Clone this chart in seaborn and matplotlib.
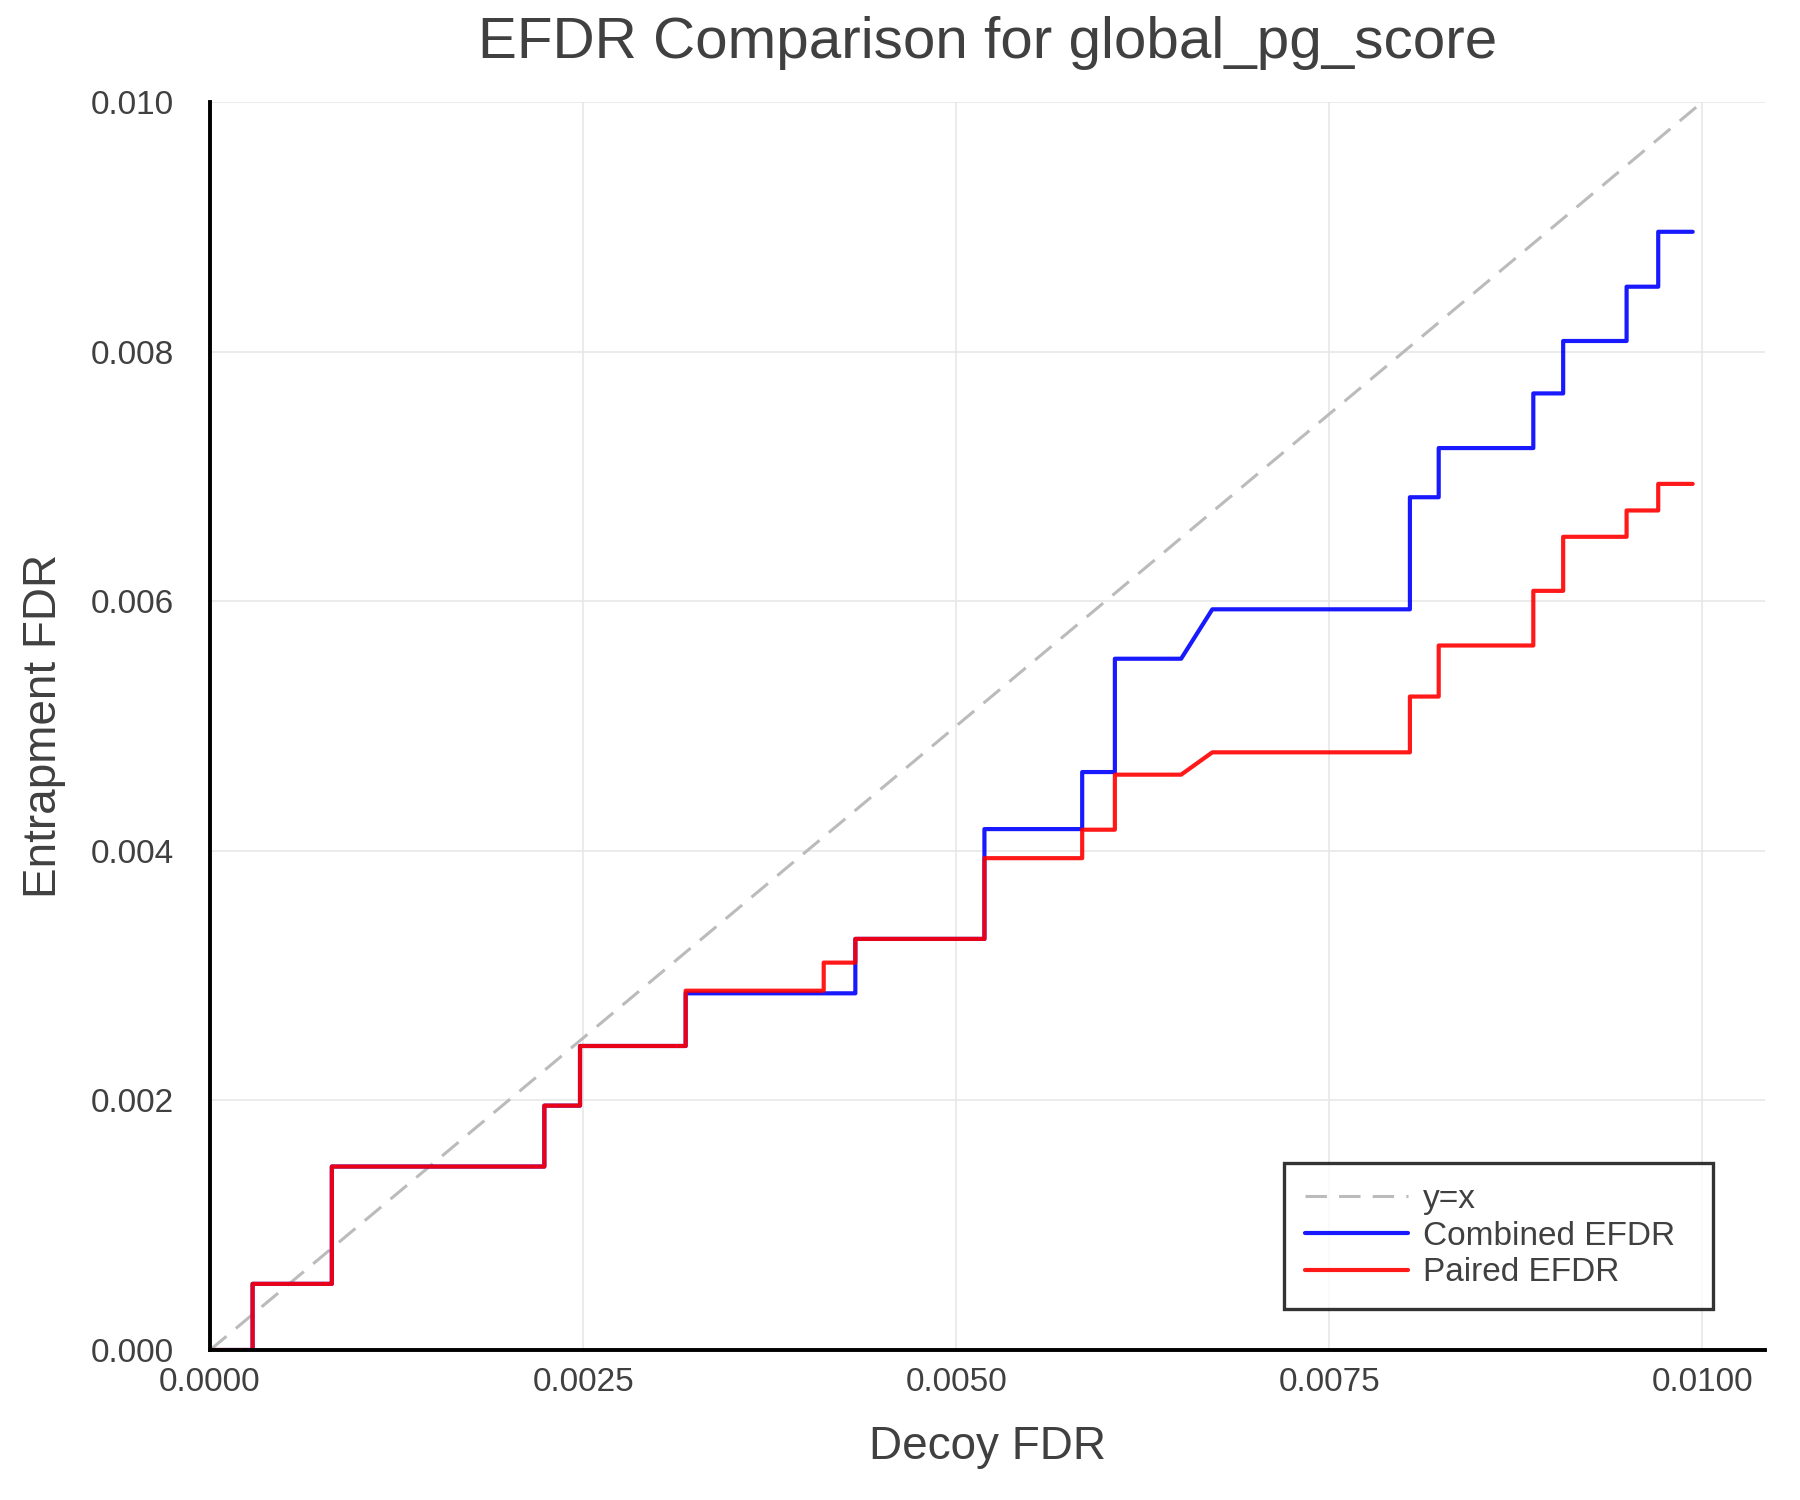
import matplotlib
matplotlib.use('Agg')
import matplotlib.pyplot as plt
import numpy as np
import pandas as pd
import seaborn as sns

# vertices of the step curves (decoy FDR, entrapment FDR)
combined_x = [0.0, 0.000285, 0.000285, 0.000816, 0.000816, 0.00224, 0.00224, 0.002479, 0.002479,
              0.003187, 0.003187, 0.004324, 0.004324, 0.005189, 0.005189, 0.005844, 0.005844,
              0.006063, 0.006063, 0.006507, 0.006716, 0.00804, 0.00804, 0.008233, 0.008233,
              0.008867, 0.008867, 0.009067, 0.009067, 0.009492, 0.009492, 0.009704, 0.009704, 0.009935]
combined_y = [0.0, 0.0, 0.00053, 0.00053, 0.00147, 0.00147, 0.001958, 0.001958, 0.002436,
              0.002436, 0.002858, 0.002858, 0.003294, 0.003294, 0.004174, 0.004174, 0.004631,
              0.004631, 0.005539, 0.005539, 0.005935, 0.005935, 0.006833, 0.006833, 0.007227,
              0.007227, 0.007665, 0.007665, 0.008085, 0.008085, 0.00852, 0.00852, 0.00896, 0.00896]

paired_x = [0.0, 0.000285, 0.000285, 0.000816, 0.000816, 0.00224, 0.00224, 0.002479, 0.002479,
            0.003187, 0.003187, 0.004112, 0.004112, 0.004324, 0.004324, 0.005189, 0.005189,
            0.005844, 0.005844, 0.006063, 0.006063, 0.006507, 0.006716, 0.00804, 0.00804,
            0.008233, 0.008233, 0.008867, 0.008867, 0.009067, 0.009067, 0.009492, 0.009492,
            0.009704, 0.009704, 0.009935]
paired_y = [0.0, 0.0, 0.00053, 0.00053, 0.00147, 0.00147, 0.001958, 0.001958, 0.002436,
            0.002436, 0.002879, 0.002879, 0.003104, 0.003104, 0.003294, 0.003294, 0.003941,
            0.003941, 0.004169, 0.004169, 0.00461, 0.00461, 0.004789, 0.004789, 0.005236,
            0.005236, 0.005645, 0.005645, 0.006083, 0.006083, 0.006516, 0.006516, 0.006727,
            0.006727, 0.00694, 0.00694]

diag = [0.0, 0.01]
xticks = [0.0, 0.0025, 0.005, 0.0075, 0.01]
xtick_labels = ['0.0000', '0.0025', '0.0050', '0.0075', '0.0100']
yticks = [0.0, 0.002, 0.004, 0.006, 0.008, 0.01]
ytick_labels = ['0.000', '0.002', '0.004', '0.006', '0.008', '0.010']

sns.set_style('white')
plt.rcParams['font.family'] = ['Liberation Sans', 'DejaVu Sans']
text_col = '#404040'

fig = plt.figure(figsize=(18, 15), dpi=100)
ax = fig.add_axes([0.1167, 0.1, 0.9806 - 0.1167, 0.932 - 0.1])

ax.grid(True, color='#e6e6e6', linewidth=1.1)
ax.set_axisbelow(True)

sns.lineplot(x=diag, y=diag, ax=ax, color='#bbbbbb', linewidth=2.2,
             linestyle=(0, (7, 4)), label='y=x')
sns.lineplot(x=combined_x, y=combined_y, ax=ax, sort=False, estimator=None,
             color='#0000ff', alpha=0.9, linewidth=3.0, label='Combined EFDR')
sns.lineplot(x=paired_x, y=paired_y, ax=ax, sort=False, estimator=None,
             color='#ff0000', alpha=0.9, linewidth=3.0, label='Paired EFDR')

ax.set_xlim(0, 0.01042)
ax.set_ylim(0, 0.01)
ax.set_xticks(xticks)
ax.set_xticklabels(xtick_labels)
ax.set_yticks(yticks)
ax.set_yticklabels(ytick_labels)
ax.tick_params(axis='both', direction='in', length=10, width=1.8, color='black',
               labelsize=24, labelcolor=text_col)
ax.tick_params(axis='x', pad=12)
ax.tick_params(axis='y', pad=26)

for side in ['top', 'right']:
    ax.spines[side].set_visible(False)
for side in ['left', 'bottom']:
    ax.spines[side].set_color('black')
    ax.spines[side].set_linewidth(2.8)

ax.set_title('EFDR Comparison for global_pg_score', fontsize=42, color=text_col, pad=32)
ax.set_xlabel('Decoy FDR', fontsize=33, color=text_col, labelpad=20)
ax.set_ylabel('Entrapment FDR', fontsize=33, color=text_col, labelpad=18)

leg = ax.legend(loc='lower left', bbox_to_anchor=(0.6906, 0.0328, 0.2762, 0.2),
                mode='expand', borderaxespad=0,
                fontsize=24, frameon=True, fancybox=False, edgecolor='black',
                handlelength=3.1, handletextpad=0.45, labelspacing=0.17,
                borderpad=0.62)
leg.get_frame().set_linewidth(2.4)
for t in leg.get_texts():
    t.set_color(text_col)

fig.savefig('out.png', dpi=100)
